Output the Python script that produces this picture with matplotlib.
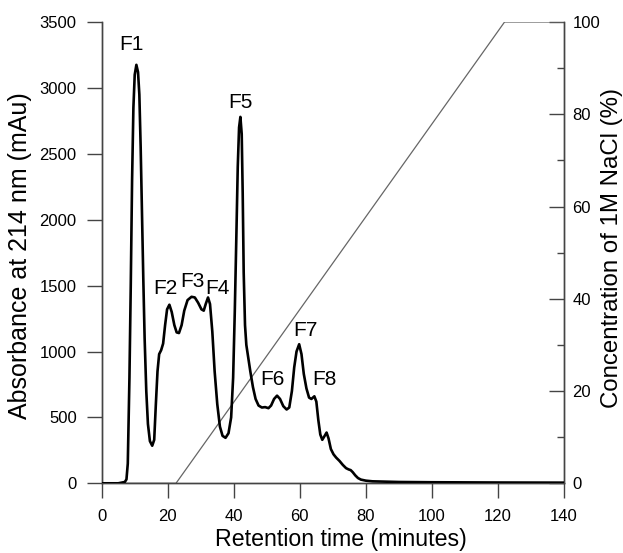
import matplotlib
matplotlib.use("Agg")
import matplotlib.pyplot as plt
from matplotlib.ticker import MultipleLocator

plt.rcParams['font.family'] = ['Liberation Sans', 'DejaVu Sans']

# Chromatogram (retention time in minutes, absorbance in mAu)
time_min = [0, 5, 7.0, 7.5, 7.9, 8.4, 8.8, 9.2, 9.6, 10.0, 10.5, 11.0, 11.4, 11.8, 12.2,
            12.6, 13.0, 13.5, 14.0, 14.6, 15.3, 15.9, 16.4, 16.9, 17.4, 18.0, 18.6,
            19.2, 19.8, 20.5, 21.2, 22.0, 22.7, 23.4, 24.2, 25.0, 26.0, 27.2, 28.2,
            29.2, 30.2, 30.9, 31.5, 32.2, 32.8, 33.5, 34.2, 35.0, 35.8, 36.6, 37.5,
            38.4, 39.2, 39.8, 40.3, 40.8, 41.2, 41.6, 42.0, 42.4, 42.7, 43.0, 43.4,
            43.8, 44.4, 45.0, 45.8, 46.6, 47.5, 48.5, 49.5, 50.5, 51.3, 52.2, 53.1,
            54.0, 55.0, 56.0, 56.8, 57.6, 58.3, 59.0, 59.8, 60.5, 61.2, 62.0, 62.8,
            63.5, 64.4, 65.0, 65.6, 66.2, 66.8, 67.4, 68.1, 68.7, 69.4, 70.2, 71.0,
            72.0, 73.0, 74.0, 74.8, 75.4, 76.0, 76.8, 77.6, 78.5, 80, 82, 90, 100,
            120, 140]
absorbance = [0, 0, 10, 30, 150, 800, 1500, 2300, 2850, 3100, 3175, 3120, 2950, 2550, 2050,
              1550, 1100, 700, 450, 320, 285, 330, 600, 850, 980, 1010, 1060,
              1200, 1320, 1355, 1300, 1200, 1145, 1140, 1200, 1310, 1390, 1415, 1410,
              1370, 1320, 1310, 1360, 1410, 1360, 1150, 850, 600, 430, 360, 345,
              380, 500, 800, 1300, 1900, 2400, 2700, 2780, 2650, 2200, 1600, 1200,
              1050, 950, 850, 730, 640, 590, 575, 578, 570, 590, 640, 665,
              640, 585, 560, 575, 700, 880, 1000, 1055, 980, 830, 720, 650,
              640, 660, 620, 480, 370, 330, 355, 385, 340, 260, 220, 195,
              170, 140, 115, 105, 100, 85, 60, 40, 28, 20, 15, 10, 8,
              6, 5]

# NaCl gradient (minutes, % of 1M NaCl)
grad_time = [0, 22.5, 122, 140]
grad_conc = [0, 0, 100, 100]

# Peak labels
peak_names = ["F1", "F2", "F3", "F4", "F5", "F6", "F7", "F8"]
peak_t = [9.1, 19.3, 27.6, 35.1, 41.9, 51.8, 61.8, 67.4]
peak_a = [3290, 1435, 1490, 1435, 2850, 745, 1115, 745]

W, H = 623, 553
fig = plt.figure(figsize=(W / 100, H / 100), dpi=100)
ax = fig.add_axes([101.7 / W, 69.7 / H, (564 - 101.7) / W, (483.3 - 22) / H])
ax2 = ax.twinx()

spc = '#444444'
ax.plot(time_min, absorbance, color='black', lw=1.9, zorder=3,
        solid_joinstyle='round')
ax2.plot(grad_time, grad_conc, color='#666666', lw=0.9)

ax.set_zorder(ax2.get_zorder() + 1)
ax.patch.set_visible(False)

ax.set_xlim(0, 140)
ax.set_ylim(0, 3500)
ax2.set_ylim(0, 100)

for a in (ax, ax2):
    a.spines['top'].set_visible(False)
    for s in a.spines.values():
        s.set_color(spc)
        s.set_linewidth(1.0)

ax.xaxis.set_major_locator(MultipleLocator(20))
ax.yaxis.set_major_locator(MultipleLocator(500))
ax.tick_params(axis='x', direction='out', length=10.8, width=1.0, color=spc,
               labelsize=12, pad=8)
ax.tick_params(axis='y', direction='out', length=10.5, width=1.0, color=spc,
               labelsize=12, pad=7.5)
ax2.yaxis.set_major_locator(MultipleLocator(20))
ax2.yaxis.set_minor_locator(MultipleLocator(10))
ax2.tick_params(axis='y', which='major', direction='in', length=10.8, width=1.0,
                color=spc, labelsize=12, pad=6)
ax2.tick_params(axis='y', which='minor', direction='in', length=5.4, width=1.0,
                color=spc)

fig.text(341 / W, (H - 546) / H, "Retention time (minutes)", fontsize=16.7,
         ha='center', va='baseline')
fig.text(20.5 / W, (H - 256) / H, "Absorbance at 214 nm (mAu)", fontsize=18,
         rotation=90, ha='center', va='center')
fig.text(612 / W, (H - 247.5) / H, "Concentration of 1M NaCl (%)", fontsize=17.3,
         rotation=90, ha='center', va='center')

for name, t, a in zip(peak_names, peak_t, peak_a):
    ax.text(t, a, name, ha='center', va='baseline', fontsize=15)

fig.savefig("out.png", dpi=100)
